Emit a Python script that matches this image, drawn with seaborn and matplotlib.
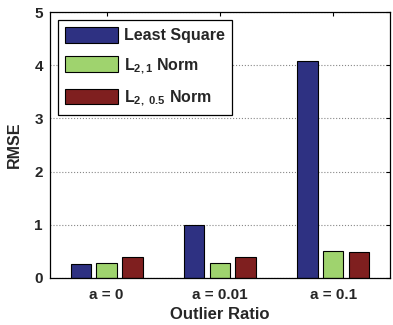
import matplotlib
matplotlib.use("Agg")
import matplotlib.pyplot as plt
import pandas as pd
import seaborn as sns

# values
ratios = ["a = 0", "a = 0.01", "a = 0.1"]
methods = ["Least Square", "L21", "L205"]
least_square = [0.26, 1.00, 4.07]
l21_norm = [0.28, 0.28, 0.50]
l205_norm = [0.40, 0.40, 0.48]
legend_labels = [
    "Least Square",
    r"L$_{\mathbf{2,1}}$ Norm",
    r"L$_{\mathbf{2,\ 0.5}}$ Norm",
]
colors = ["#2E3182", "#9FD36E", "#7F1F1F"]

df = pd.DataFrame({
    "ratio": ratios * 3,
    "method": [m for m in methods for _ in ratios],
    "rmse": least_square + l21_norm + l205_norm,
})

sns.set_theme(style="white")
plt.rcParams["font.family"] = ["Liberation Sans", "DejaVu Sans"]
plt.rcParams["font.weight"] = "bold"
plt.rcParams["mathtext.fontset"] = "custom"
plt.rcParams["mathtext.rm"] = "Liberation Sans:bold"
plt.rcParams["mathtext.bf"] = "Liberation Sans:bold"
plt.rcParams["mathtext.it"] = "Liberation Sans:bold"

fig = plt.figure(figsize=(3.93, 3.25), dpi=100)
ax = fig.add_axes([0.127, 0.145, 0.865, 0.818])

sns.barplot(data=df, x="ratio", y="rmse", hue="method", palette=colors,
            width=0.68, gap=0.2, edgecolor="black", linewidth=0.8,
            saturation=1, legend=True, ax=ax)

ax.set_ylim(0, 5)
ax.set_xlim(-0.5, 2.5)
ax.set_yticks(range(6))
ax.yaxis.grid(True, linestyle=":", color="#888888", linewidth=0.8)
ax.set_axisbelow(True)
for s in ax.spines.values():
    s.set_color("black")
    s.set_linewidth(0.9)
ax.tick_params(axis="both", direction="in", length=3, width=0.8, color="black",
               top=True, right=True, labelsize=11, pad=5)
ax.tick_params(axis="x", pad=7)
for lab in ax.get_xticklabels() + ax.get_yticklabels():
    lab.set_fontweight("bold")
ax.set_xlabel("Outlier Ratio", fontsize=12, fontweight="bold", labelpad=4)
ax.set_ylabel("RMSE", fontsize=11.5, fontweight="heavy", labelpad=9)

handles, _ = ax.get_legend_handles_labels()
leg = ax.legend(handles, legend_labels, loc="upper left",
                bbox_to_anchor=(0.024, 0.97), borderaxespad=0,
                prop={"weight": "bold", "size": 11.5},
                handlelength=3.3, handleheight=1.1, labelspacing=0.8,
                borderpad=0.45, handletextpad=0.35, fancybox=False,
                edgecolor="black", framealpha=1)
leg.get_frame().set_linewidth(0.9)

fig.savefig("out.png", dpi=100)
